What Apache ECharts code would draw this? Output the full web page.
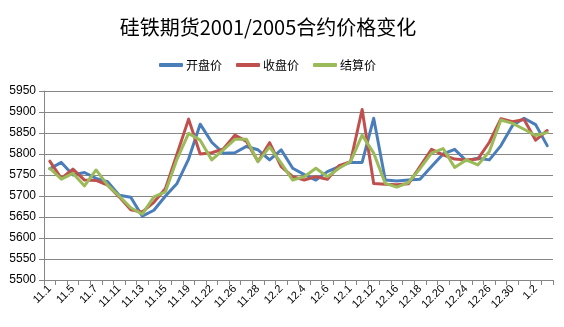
<!DOCTYPE html>
<html>
<head>
<meta charset="utf-8">
<script src="https://cdn.jsdelivr.net/npm/echarts@6/dist/echarts.min.js"></script>
<style>
  html, body { margin: 0; padding: 0; background: #fff; }
  #chart { width: 564px; height: 327px; }
</style>
</head>
<body>
<div id="chart"></div>
<script>
// Trading days, Nov 2019 – Jan 2020 (every other one is labelled)
const categories = [
  '11.1', '11.4', '11.5', '11.6', '11.7', '11.8', '11.11', '11.12', '11.13', '11.14',
  '11.15', '11.18', '11.19', '11.21', '11.22', '11.25', '11.26', '11.27', '11.28', '11.29',
  '12.2', '12.3', '12.4', '12.5', '12.6', '12.9', '12.1', '12.11', '12.12', '12.13',
  '12.16', '12.17', '12.18', '12.19', '12.20', '12.23', '12.24', '12.25', '12.26', '12.27',
  '12.30', '12.31', '1.2', '1.3'
];

// 开盘价
const openPrice = [
  5765, 5780, 5750, 5756, 5742, 5734, 5702, 5697, 5652, 5666,
  5700, 5730, 5788, 5871, 5828, 5802, 5803, 5818, 5810, 5786,
  5810, 5766, 5751, 5738, 5758, 5770, 5780, 5780, 5885, 5738,
  5736, 5738, 5740, 5770, 5800, 5811, 5784, 5790, 5786, 5820,
  5868, 5885, 5870, 5820
];

// 收盘价
const closePrice = [
  5783, 5742, 5764, 5738, 5737, 5726, 5698, 5667, 5662, 5685,
  5718, 5800, 5883, 5800, 5803, 5812, 5845, 5830, 5782, 5827,
  5770, 5746, 5738, 5746, 5740, 5772, 5782, 5906, 5730, 5728,
  5727, 5729, 5770, 5811, 5798, 5788, 5786, 5788, 5828, 5884,
  5877, 5882, 5833, 5856
];

// 结算价
const settlePrice = [
  5766, 5740, 5754, 5724, 5762, 5726, 5700, 5672, 5657, 5698,
  5710, 5788, 5849, 5833, 5786, 5810, 5835, 5835, 5782, 5817,
  5778, 5738, 5746, 5766, 5746, 5766, 5782, 5845, 5802, 5730,
  5721, 5732, 5765, 5802, 5813, 5768, 5786, 5774, 5806, 5881,
  5873, 5859, 5844, 5851
];

const seriesNames = ['开盘价', '收盘价', '结算价'];
const seriesColors = ['#4A7EBB', '#C0504D', '#9BBB59'];

const cjk = '"Noto Sans CJK SC", "Noto Sans", sans-serif';
const latin = '"Liberation Sans", "Noto Sans", sans-serif';

const chart = echarts.init(document.getElementById('chart'), null, { renderer: 'canvas' });

const makeLine = (name, data, color) => ({
  name: name,
  type: 'line',
  data: data,
  symbol: 'none',
  smooth: false,
  lineStyle: { color: color, width: 3, join: 'round', cap: 'round' },
  itemStyle: { color: color },
  emphasis: { disabled: true }
});

chart.setOption({
  animation: false,
  backgroundColor: '#ffffff',
  title: {
    text: '硅铁期货2001/2005合约价格变化',
    left: 263,
    textAlign: 'center',
    top: 12,
    textStyle: { fontFamily: cjk, fontSize: 20, fontWeight: 'normal', color: '#000' }
  },
  legend: {
    data: seriesNames,
    left: 154,
    top: 54,
    icon: 'roundRect',
    itemWidth: 24,
    itemHeight: 4,
    itemGap: 14,
    textStyle: { fontFamily: cjk, fontSize: 12, color: '#000', padding: [0, 0, 0, -2] }
  },
  grid: { left: 44, right: 11, top: 91, bottom: 47, containLabel: false },
  xAxis: {
    type: 'category',
    data: categories,
    boundaryGap: true,
    axisLine: { lineStyle: { color: '#868686', width: 1 } },
    axisTick: { show: true, alignWithLabel: false, interval: 0, length: 5, lineStyle: { color: '#868686' } },
    axisLabel: {
      interval: 1,
      rotate: 45,
      margin: 7,
      fontFamily: latin,
      fontSize: 11,
      color: '#000'
    },
    splitLine: { show: false }
  },
  yAxis: {
    type: 'value',
    min: 5500,
    max: 5950,
    interval: 50,
    axisLine: { show: true, lineStyle: { color: '#868686', width: 1 } },
    axisTick: { show: true, inside: false, length: 5, lineStyle: { color: '#868686' } },
    axisLabel: {
      fontFamily: latin,
      fontSize: 12,
      color: '#000',
      margin: 8,
      formatter: (v) => String(v)
    },
    splitLine: { show: true, lineStyle: { color: '#868686', width: 1 } }
  },
  series: [
    makeLine(seriesNames[0], openPrice, seriesColors[0]),
    makeLine(seriesNames[1], closePrice, seriesColors[1]),
    makeLine(seriesNames[2], settlePrice, seriesColors[2])
  ]
});
</script>
</body>
</html>
